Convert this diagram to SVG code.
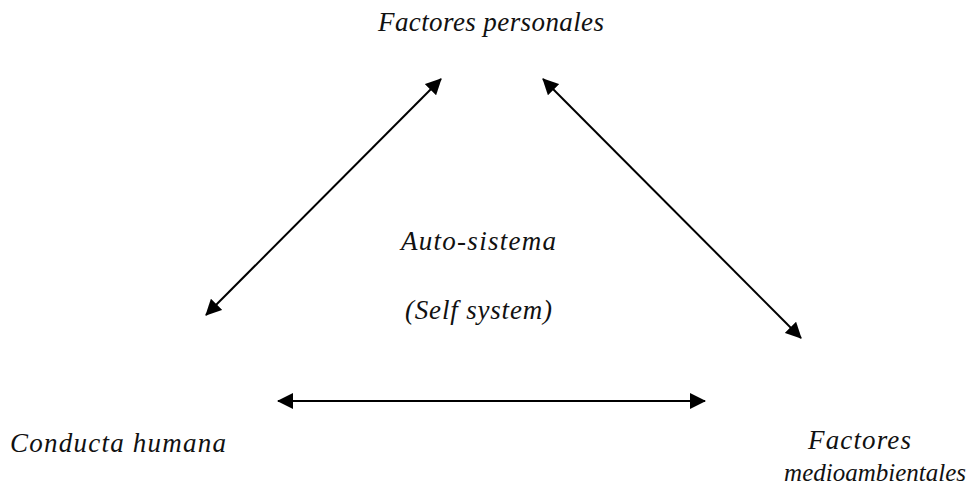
<svg xmlns="http://www.w3.org/2000/svg" width="972" height="494" viewBox="0 0 972 494">
  <style>
    .lbl { font-family: "Liberation Serif", "DejaVu Serif", serif; font-style: italic; font-size: 27px; fill: #111; }
    .conn { stroke: #000; stroke-width: 2; fill: none; marker-start: url(#head); marker-end: url(#head); }
  </style>
  <defs>
    <marker id="head" viewBox="0 0 16 16" refX="15" refY="8" markerWidth="16" markerHeight="16" markerUnits="userSpaceOnUse" orient="auto-start-reverse">
      <path d="M0,0 L16,8 L0,16 Z" fill="#000"/>
    </marker>
  </defs>
  <rect width="972" height="494" fill="#fff"/>

  <g id="connectors">
    <line class="conn" x1="206" y1="315" x2="441" y2="79"/>
    <line class="conn" x1="543" y1="79" x2="801" y2="338"/>
    <line class="conn" x1="278" y1="401" x2="705" y2="401"/>
  </g>

  <g id="personales">
    <text class="lbl" x="378" y="31" textLength="226" lengthAdjust="spacing">Factores personales</text>
  </g>
  <g id="autosistema">
    <text class="lbl" x="401" y="250" textLength="155" lengthAdjust="spacing">Auto-sistema</text>
    <text class="lbl" x="405" y="319" textLength="147" lengthAdjust="spacing">(Self system)</text>
  </g>
  <g id="conducta">
    <text class="lbl" x="10" y="452" textLength="216" lengthAdjust="spacing">Conducta humana</text>
  </g>
  <g id="medioambientales">
    <text class="lbl" x="808" y="449" textLength="103" lengthAdjust="spacing">Factores</text>
    <text class="lbl" x="966" y="481" style="font-size:25px; text-anchor:end">medioambientales</text>
  </g>
</svg>
